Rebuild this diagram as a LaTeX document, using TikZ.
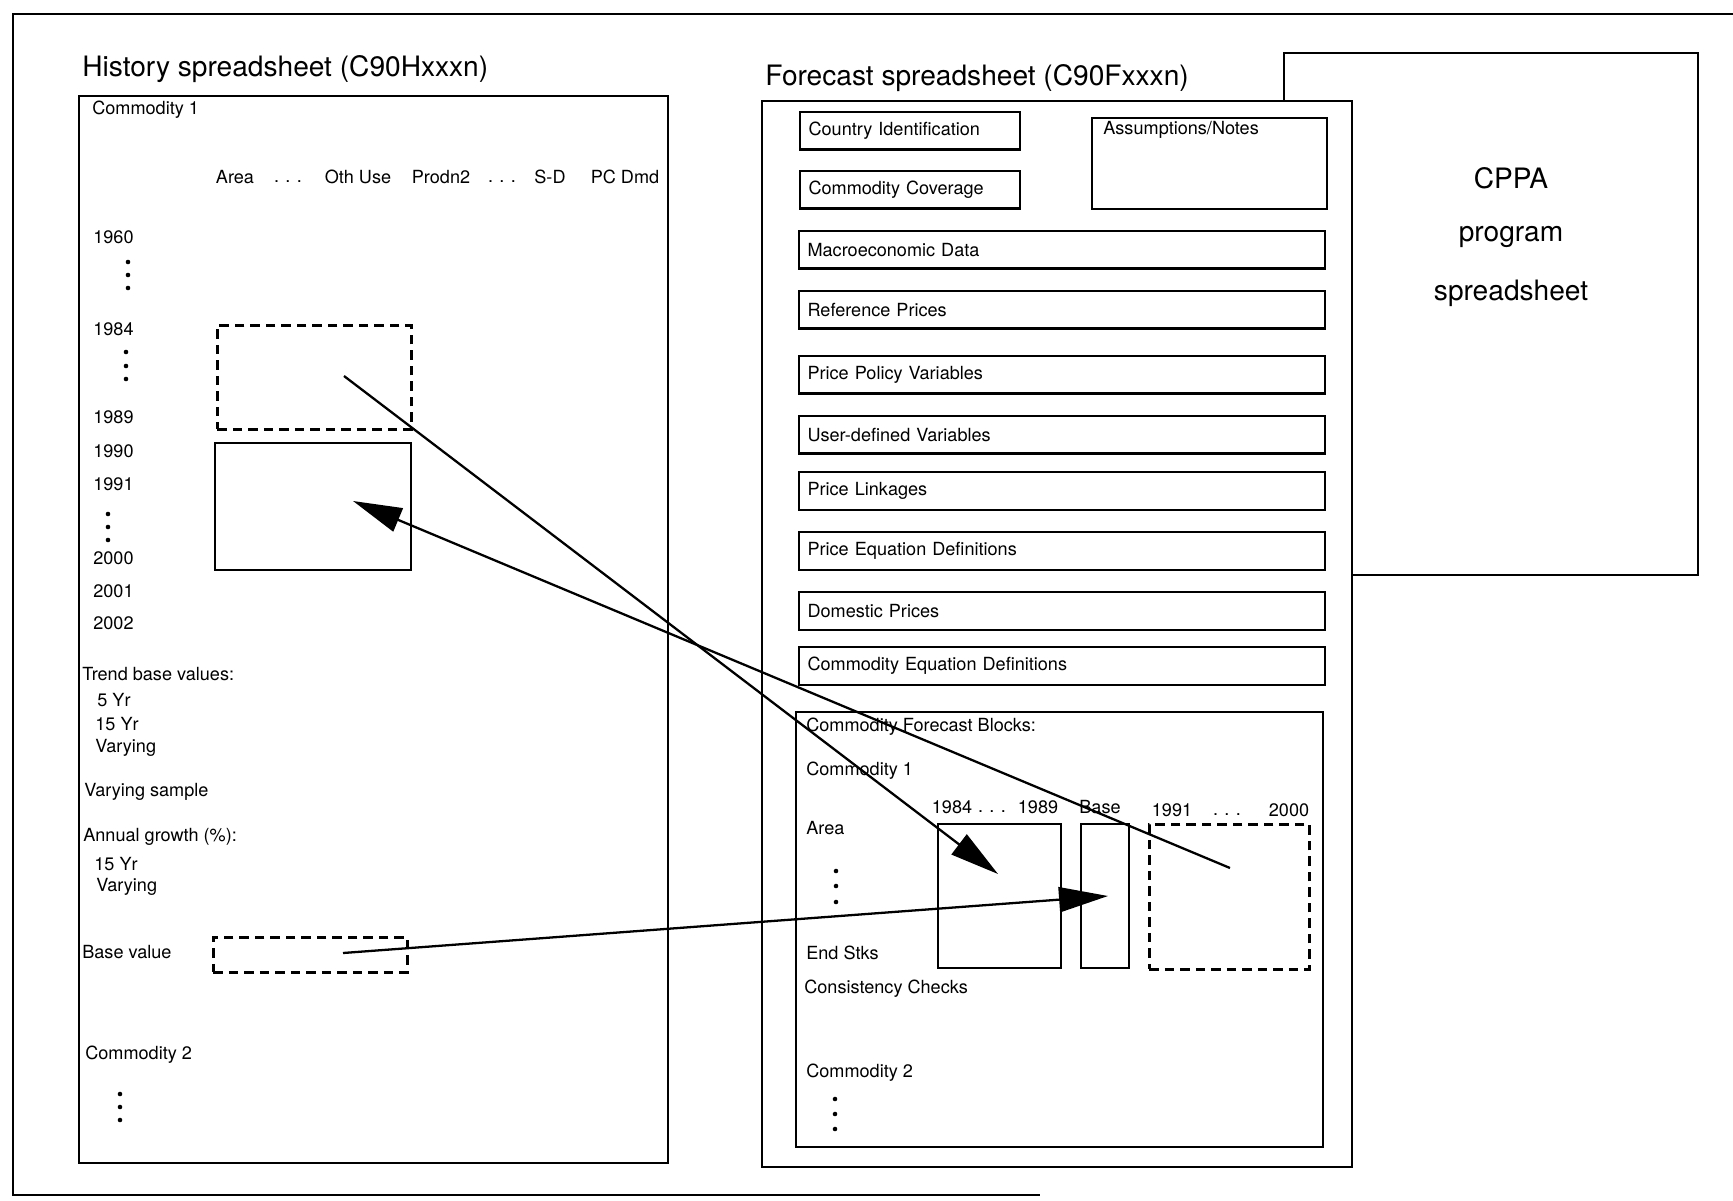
\documentclass[tikz,border=0pt]{standalone}
\usepackage{fontspec}
\setmainfont{TeX Gyre Heros}
\usetikzlibrary{arrows.meta}
\newcommand{\gapdots}{.\kern3.6pt.\kern3.6pt.}

\begin{document}
\begin{tikzpicture}[x=0.02cm, y=-0.02cm,
  frame/.style={draw, line width=1.1pt},
  sheet/.style={draw, line width=1.2pt, anchor=north west, inner sep=0pt},
  field/.style={draw, line width=1.2pt, anchor=north west, inner xsep=0.17cm, inner ysep=0pt, text width=#1, align=left, minimum height=0.75cm, font=\fontsize{10.3}{12}\selectfont},
  cell/.style={anchor=west, inner sep=0pt, font=\fontsize{10.3}{12}\selectfont},
  colhead/.style={inner sep=0pt, font=\fontsize{10.3}{12}\selectfont},
  heading/.style={anchor=base west, inner sep=0pt, font=\fontsize{16}{19}\selectfont},
  bigtext/.style={anchor=base, inner sep=0pt, font=\fontsize{16}{19}\selectfont},
  datablock/.style={draw, line width=1.2pt, anchor=north west, inner sep=0pt},
  blank/.style={draw, line width=1.5pt, dash pattern=on 0.19cm off 0.12cm, anchor=north west, inner sep=0pt},
  link/.style={line width=1.3pt, -{Triangle[length=0.98cm, width=0.5cm]}}
]
\useasboundingbox (0,0) rectangle (1733,1200);

% outer frame
\draw[frame] (1733,14) -- (13,14) -- (13,1195) -- (1040,1195);

% the three spreadsheets
\node[sheet, minimum width=11.78cm, minimum height=21.34cm] (hist) at (78,95) {};
\node[sheet, minimum width=8.28cm, minimum height=10.44cm] (cppa) at (1283,52) {};
\node[sheet, fill=white, minimum width=11.8cm, minimum height=21.32cm] (fcst) at (761,100) {};

\node[heading] (htitle) at (82,76) {History spreadsheet (C90Hxxxn)};
\node[heading] (ftitle) at (765,85) {Forecast spreadsheet (C90Fxxxn)};

\node[bigtext] (cppa1) at (1511,188) {CPPA};
\node[bigtext] (cppa2) at (1511,241) {program};
\node[bigtext] (cppa3) at (1511,300) {spreadsheet};

% history spreadsheet
\node[cell] (hcom1) at (92,110) {Commodity 1};
\node[colhead] (harea) at (235,177) {Area};
\node[colhead] (hdotsa) at (288,182) {\gapdots};
\node[colhead] (hoth) at (358,177) {Oth Use};
\node[colhead] (hprod) at (441,177) {Prodn2};
\node[colhead] (hdotsb) at (502,182) {\gapdots};
\node[colhead] (hsd) at (550,177) {S-D};
\node[colhead] (hpc) at (625,177) {PC Dmd};

\node[cell] (y1960) at (93,237) {1960};
\node[cell] (y1984) at (93,329) {1984};
\node[cell] (y1989) at (93,417) {1989};
\node[cell] (y1990) at (93,451) {1990};
\node[cell] (y1991) at (93,484) {1991};
\node[cell] (y2000) at (93,558) {2000};
\node[cell] (y2001) at (93,591) {2001};
\node[cell] (y2002) at (93,623) {2002};
\foreach \y in {262,275,288} \fill (128,\y) circle (1.3pt);
\foreach \y in {352,366,379} \fill (126,\y) circle (1.3pt);
\foreach \y in {514,527,540} \fill (108,\y) circle (1.3pt);

\node[cell] (trend) at (82,674) {Trend base values:};
\node[cell] (tfive) at (97,700) {5 Yr};
\node[cell] (tfifteen) at (95,724) {15 Yr};
\node[cell] (tvary) at (95,748) {Varying};
\node[cell] (vsample) at (84,792) {Varying sample};
\node[cell] (growth) at (83,837) {Annual growth (\%):};
\node[cell] (gfifteen) at (94,864) {15 Yr};
\node[cell] (gvary) at (96,887) {Varying};
\node[cell] (hbaselbl) at (82,952) {Base value};
\node[cell] (hcom2) at (85,1055) {Commodity 2};
\foreach \y in {1094,1107,1120} \fill (120,\y) circle (1.3pt);

\node[blank, minimum width=3.88cm, minimum height=2.08cm] (hpast) at (216,324) {};
\node[datablock, minimum width=3.92cm, minimum height=2.54cm] (hproj) at (214,442) {};
\node[blank, minimum width=3.88cm, minimum height=0.7cm] (hbase) at (212,936) {};

% forecast spreadsheet
\node[field=4.06cm] (cid) at (799,111) {Country Identification};
\node[field=4.06cm] (ccov) at (799,170) {Commodity Coverage};
\node[sheet, minimum width=4.7cm, minimum height=1.82cm] (notes) at (1091,117) {};
\node[cell] (notestxt) at (1103,130) {Assumptions/Notes};
\node[field=10.18cm] (macro) at (798,230) {Macroeconomic Data};
\node[field=10.18cm] (refp) at (798,290) {Reference Prices};
\node[field=10.18cm] (ppol) at (798,355) {Price Policy Variables};
\node[field=10.18cm] (udef) at (798,415) {User-defined Variables};
\node[field=10.18cm] (plink) at (798,471) {Price Linkages};
\node[field=10.18cm] (peq) at (798,531) {Price Equation Definitions};
\node[field=10.18cm] (domp) at (798,591) {Domestic Prices};
\node[field=10.18cm] (ceq) at (798,646) {Commodity Equation Definitions};

\node[sheet, minimum width=10.54cm, minimum height=8.7cm] (cfb) at (795,711) {};
\node[cell] (cfbtitle) at (806,727) {Commodity Forecast Blocks:};
\node[cell] (fcom1) at (806,771) {Commodity 1};
\node[cell] (farea) at (806,828) {Area};
\node[cell] (fend) at (806,953) {End Stks};
\node[cell] (fcheck) at (804,989) {Consistency Checks};
\node[cell] (fcom2) at (806,1073) {Commodity 2};
\foreach \y in {871,886,902} \fill (836,\y) circle (1.3pt);
\foreach \y in {1099,1114,1129} \fill (835,\y) circle (1.3pt);

\node[colhead] (fy84) at (952,807) {1984};
\node[colhead] (fdotsa) at (992,812) {\gapdots};
\node[colhead] (fy89) at (1038,807) {1989};
\node[colhead] (fbaselbl) at (1100,807) {Base};
\node[colhead] (fy91) at (1172,810) {1991};
\node[colhead] (fdotsb) at (1227,815) {\gapdots};
\node[colhead] (fy00) at (1289,810) {2000};

\node[datablock, minimum width=2.46cm, minimum height=2.88cm] (fpast) at (937,823) {};
\node[datablock, minimum width=0.96cm, minimum height=2.88cm] (fbase) at (1080,823) {};
\node[blank, minimum width=3.2cm, minimum height=2.9cm] (fproj) at (1148,823) {};

% links between the sheets
\coordinate (hpastsrc) at (344,376);
\coordinate (fpasttip) at (998,874);
\coordinate (fprojsrc) at (1230,868);
\coordinate (hprojtip) at (353,501);
\coordinate (hbasesrc) at (343,953);
\coordinate (fbasetip) at (1108,896);
\draw[link] (hpastsrc) -- (fpasttip);
\draw[link] (fprojsrc) -- (hprojtip);
\draw[link] (hbasesrc) -- (fbasetip);
\end{tikzpicture}
\end{document}
